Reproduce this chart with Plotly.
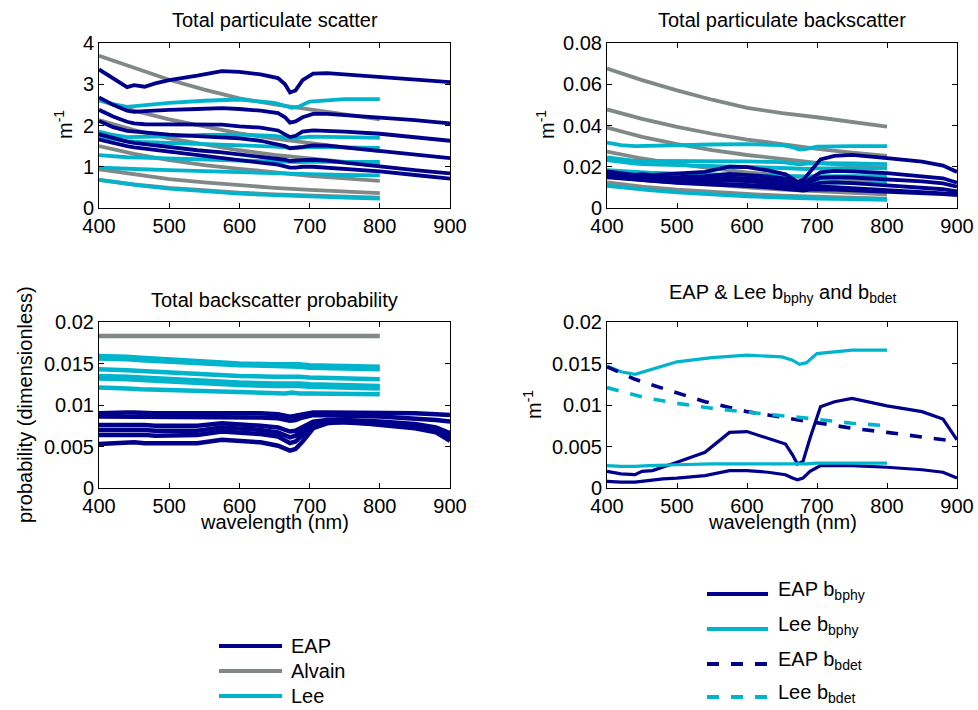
import plotly.graph_objects as go

# ---------------- data ----------------
wl_eap = [400, 420, 440, 450, 465, 480, 500, 540, 575, 600, 630, 655, 665, 672,
          680, 690, 705, 725, 750, 800, 850, 880, 900]
wl_lee = [400, 420, 440, 460, 500, 550, 600, 650, 665, 675, 685, 700, 750, 800]
wl_alvain = [400, 450, 500, 550, 600, 650, 700, 750, 800]

# total particulate scatter b_p (m^-1)
eap_bp = [
    [3.36, 3.15, 2.93, 2.98, 2.94, 3.02, 3.10, 3.21, 3.32, 3.30, 3.24, 3.15, 3.00, 2.80,
     2.85, 3.10, 3.26, 3.27, 3.24, 3.18, 3.12, 3.08, 3.05],
    [2.68, 2.50, 2.36, 2.33, 2.35, 2.37, 2.38, 2.40, 2.42, 2.40, 2.36, 2.30, 2.20, 2.07,
     2.10, 2.20, 2.28, 2.28, 2.25, 2.20, 2.13, 2.08, 2.05],
    [2.38, 2.22, 2.09, 2.05, 2.03, 2.03, 2.04, 2.04, 2.02, 1.98, 1.95, 1.88, 1.80, 1.72,
     1.75, 1.85, 1.88, 1.87, 1.85, 1.80, 1.72, 1.67, 1.63],
    [2.11, 1.96, 1.87, 1.85, 1.83, 1.81, 1.78, 1.74, 1.72, 1.69, 1.63, 1.55, 1.50, 1.45,
     1.46, 1.48, 1.52, 1.51, 1.47, 1.38, 1.30, 1.25, 1.21],
    [1.79, 1.69, 1.61, 1.58, 1.55, 1.51, 1.46, 1.40, 1.35, 1.30, 1.25, 1.20, 1.17, 1.14,
     1.14, 1.16, 1.17, 1.15, 1.10, 1.00, 0.92, 0.87, 0.84],
    [1.66, 1.57, 1.50, 1.47, 1.44, 1.40, 1.35, 1.28, 1.22, 1.17, 1.11, 1.05, 1.01, 0.98,
     0.98, 1.00, 1.00, 0.98, 0.95, 0.89, 0.80, 0.75, 0.71],
]
lee_bp = [
    [2.62, 2.52, 2.45, 2.48, 2.55, 2.60, 2.63, 2.55, 2.48, 2.43, 2.46, 2.58, 2.64, 2.64],
    [1.85, 1.77, 1.72, 1.72, 1.74, 1.77, 1.78, 1.75, 1.72, 1.68, 1.70, 1.73, 1.72, 1.70],
    [1.73, 1.67, 1.62, 1.60, 1.58, 1.55, 1.52, 1.49, 1.47, 1.45, 1.46, 1.48, 1.47, 1.46],
    [1.28, 1.25, 1.23, 1.22, 1.20, 1.18, 1.15, 1.13, 1.12, 1.10, 1.11, 1.12, 1.12, 1.12],
    [0.98, 0.96, 0.95, 0.94, 0.92, 0.89, 0.87, 0.85, 0.84, 0.82, 0.82, 0.82, 0.80, 0.79],
    [0.68, 0.63, 0.58, 0.54, 0.47, 0.40, 0.35, 0.31, 0.30, 0.29, 0.29, 0.28, 0.25, 0.23],
]
alvain_bp = [
    [3.69, 3.39, 3.11, 2.87, 2.66, 2.51, 2.40, 2.27, 2.15],
    [2.61, 2.36, 2.15, 1.97, 1.81, 1.68, 1.57, 1.47, 1.38],
    [2.13, 1.89, 1.69, 1.54, 1.40, 1.29, 1.20, 1.12, 1.05],
    [1.50, 1.31, 1.16, 1.04, 0.95, 0.86, 0.78, 0.72, 0.66],
    [0.94, 0.81, 0.70, 0.62, 0.55, 0.49, 0.44, 0.39, 0.36],
    [0.68, 0.57, 0.49, 0.42, 0.37, 0.33, 0.30, 0.27, 0.25],
]

# total particulate backscatter b_bp (m^-1)
eap_bbp = [
    [0.0178, 0.0170, 0.0161, 0.0164, 0.0159, 0.0163, 0.0167, 0.0175, 0.0200, 0.0198, 0.0182,
     0.0163, 0.0142, 0.0127, 0.0135, 0.0175, 0.0236, 0.0253, 0.0258, 0.0242, 0.0225, 0.0206, 0.0175],
    [0.0172, 0.0160, 0.0153, 0.0151, 0.0150, 0.0149, 0.0150, 0.0154, 0.0165, 0.0161, 0.0153,
     0.0143, 0.0125, 0.0112, 0.0118, 0.0141, 0.0173, 0.0180, 0.0178, 0.0169, 0.0155, 0.0144, 0.0123],
    [0.0167, 0.0155, 0.0148, 0.0146, 0.0142, 0.0140, 0.0141, 0.0141, 0.0147, 0.0143, 0.0137,
     0.0126, 0.0115, 0.0105, 0.0110, 0.0128, 0.0147, 0.0150, 0.0148, 0.0140, 0.0129, 0.0119, 0.0103],
    [0.0160, 0.0149, 0.0144, 0.0142, 0.0139, 0.0136, 0.0134, 0.0131, 0.0134, 0.0130, 0.0122,
     0.0113, 0.0105, 0.0099, 0.0101, 0.0110, 0.0122, 0.0124, 0.0121, 0.0110, 0.0100, 0.0091, 0.0080],
    [0.0154, 0.0145, 0.0138, 0.0136, 0.0132, 0.0128, 0.0124, 0.0119, 0.0116, 0.0112, 0.0106,
     0.0101, 0.0096, 0.0092, 0.0093, 0.0099, 0.0103, 0.0101, 0.0096, 0.0086, 0.0077, 0.0071, 0.0067],
    [0.0149, 0.0143, 0.0137, 0.0134, 0.0130, 0.0126, 0.0122, 0.0115, 0.0111, 0.0106, 0.0100,
     0.0093, 0.0088, 0.0084, 0.0085, 0.0089, 0.0091, 0.0089, 0.0086, 0.0080, 0.0072, 0.0067, 0.0062],
]
lee_bbp = [
    [0.0317, 0.0305, 0.0300, 0.0302, 0.0305, 0.0308, 0.0310, 0.0305, 0.0295, 0.0283, 0.0287, 0.0298, 0.0300, 0.0300],
    [0.0245, 0.0236, 0.0228, 0.0228, 0.0228, 0.0227, 0.0226, 0.0222, 0.0218, 0.0212, 0.0215, 0.0218, 0.0216, 0.0213],
    [0.0232, 0.0223, 0.0215, 0.0212, 0.0207, 0.0203, 0.0199, 0.0194, 0.0191, 0.0187, 0.0189, 0.0192, 0.0192, 0.0192],
    [0.0183, 0.0178, 0.0174, 0.0171, 0.0167, 0.0163, 0.0159, 0.0156, 0.0154, 0.0151, 0.0153, 0.0155, 0.0155, 0.0155],
    [0.0153, 0.0150, 0.0147, 0.0144, 0.0140, 0.0135, 0.0131, 0.0128, 0.0127, 0.0124, 0.0125, 0.0124, 0.0121, 0.0119],
    [0.0108, 0.0100, 0.0093, 0.0087, 0.0076, 0.0065, 0.0057, 0.0051, 0.0049, 0.0048, 0.0047, 0.0046, 0.0043, 0.0040],
]
alvain_bbp = [
    [0.0676, 0.0620, 0.0570, 0.0525, 0.0486, 0.0460, 0.0440, 0.0415, 0.0394],
    [0.0478, 0.0432, 0.0393, 0.0360, 0.0332, 0.0308, 0.0287, 0.0269, 0.0253],
    [0.0390, 0.0345, 0.0310, 0.0281, 0.0257, 0.0236, 0.0219, 0.0205, 0.0193],
    [0.0274, 0.0240, 0.0213, 0.0191, 0.0173, 0.0157, 0.0143, 0.0131, 0.0121],
    [0.0172, 0.0148, 0.0129, 0.0113, 0.0100, 0.0089, 0.0080, 0.0072, 0.0066],
    [0.0124, 0.0104, 0.0089, 0.0077, 0.0068, 0.0060, 0.0054, 0.0049, 0.0045],
]

# backscatter probability b_bp / b_p
eap_prob = [
    [0.0090, 0.0091, 0.0091, 0.0091, 0.0090, 0.0090, 0.0090, 0.0090, 0.0091, 0.0091, 0.0090, 0.0089,
     0.0087, 0.0086, 0.0087, 0.0089, 0.0091, 0.0091, 0.0091, 0.0090, 0.0090, 0.0089, 0.0088],
    [0.0086, 0.0086, 0.0086, 0.0086, 0.0085, 0.0085, 0.0085, 0.0085, 0.0086, 0.0086, 0.0085, 0.0084,
     0.0082, 0.0081, 0.0082, 0.0085, 0.0088, 0.0088, 0.0087, 0.0086, 0.0084, 0.0082, 0.0080],
    [0.0076, 0.0076, 0.0077, 0.0077, 0.0076, 0.0075, 0.0075, 0.0075, 0.0078, 0.0077, 0.0075, 0.0073,
     0.0070, 0.0068, 0.0069, 0.0074, 0.0080, 0.0082, 0.0082, 0.0080, 0.0077, 0.0073, 0.0066],
    [0.0070, 0.0070, 0.0071, 0.0071, 0.0070, 0.0069, 0.0069, 0.0069, 0.0073, 0.0072, 0.0070, 0.0067,
     0.0064, 0.0061, 0.0063, 0.0069, 0.0078, 0.0080, 0.0080, 0.0078, 0.0075, 0.0071, 0.0063],
    [0.0064, 0.0064, 0.0065, 0.0065, 0.0064, 0.0063, 0.0063, 0.0064, 0.0068, 0.0067, 0.0065, 0.0062,
     0.0057, 0.0054, 0.0056, 0.0064, 0.0076, 0.0079, 0.0079, 0.0077, 0.0073, 0.0069, 0.0060],
    [0.0053, 0.0054, 0.0055, 0.0055, 0.0054, 0.0054, 0.0054, 0.0054, 0.0058, 0.0057, 0.0055, 0.0051,
     0.0047, 0.0045, 0.0047, 0.0056, 0.0072, 0.0078, 0.0080, 0.0076, 0.0072, 0.0067, 0.0057],
]
lee_prob = [
    [0.0159, 0.0159, 0.0158, 0.0157, 0.0155, 0.0152, 0.0150, 0.0149, 0.0149, 0.0150, 0.0149, 0.0148, 0.0147, 0.0146],
    [0.0156, 0.0156, 0.0155, 0.0154, 0.0152, 0.0150, 0.0148, 0.0147, 0.0147, 0.0147, 0.0146, 0.0145, 0.0144, 0.0143],
    [0.0143, 0.0143, 0.0142, 0.0141, 0.0139, 0.0137, 0.0135, 0.0134, 0.0134, 0.0135, 0.0134, 0.0133, 0.0132, 0.0131],
    [0.0135, 0.0135, 0.0134, 0.0133, 0.0131, 0.0129, 0.0127, 0.0126, 0.0126, 0.0127, 0.0126, 0.0125, 0.0124, 0.0123],
    [0.0132, 0.0132, 0.0131, 0.0130, 0.0128, 0.0126, 0.0124, 0.0123, 0.0123, 0.0124, 0.0123, 0.0122, 0.0121, 0.0120],
    [0.0121, 0.0121, 0.0120, 0.0119, 0.0118, 0.0116, 0.0115, 0.0114, 0.0114, 0.0115, 0.0114, 0.0114, 0.0113, 0.0113],
]
alvain_prob = [0.0183, 0.0183, 0.0183, 0.0183, 0.0183, 0.0183, 0.0183, 0.0183, 0.0183]

# phytoplankton / detrital backscatter (m^-1)
eap_bbphy = [
    [0.0020, 0.0017, 0.0016, 0.0020, 0.0021, 0.0025, 0.0031, 0.0043, 0.0067, 0.0068, 0.0060, 0.0053,
     0.0040, 0.0029, 0.0032, 0.0060, 0.0098, 0.0104, 0.0108, 0.0099, 0.0092, 0.0083, 0.0058],
    [0.0008, 0.0007, 0.0007, 0.0008, 0.0009, 0.0011, 0.0012, 0.0015, 0.0021, 0.0021, 0.0019, 0.0016,
     0.0012, 0.0010, 0.0012, 0.0020, 0.0027, 0.0027, 0.0027, 0.0025, 0.0022, 0.0019, 0.0012],
]
lee_bbphy = [
    [0.0147, 0.0140, 0.0137, 0.0142, 0.0152, 0.0157, 0.0160, 0.0158, 0.0154, 0.0149, 0.0151, 0.0162, 0.0166, 0.0166],
    [0.0027, 0.0026, 0.0026, 0.0027, 0.0028, 0.0029, 0.0029, 0.0029, 0.0029, 0.0029, 0.0029, 0.0030, 0.0030, 0.0030],
]
eap_bbdet = [0.0146, 0.0138, 0.0131, 0.0128, 0.0124, 0.0120, 0.0114, 0.0104, 0.0097, 0.0092, 0.0088, 0.0084,
             0.0083, 0.0082, 0.0081, 0.0080, 0.0078, 0.0075, 0.0072, 0.0067, 0.0062, 0.0058, 0.0056]
lee_bbdet = [0.0121, 0.0116, 0.0112, 0.0108, 0.0102, 0.0096, 0.0091, 0.0087, 0.0086, 0.0085, 0.0084, 0.0082, 0.0078, 0.0075]

legend_left = ["EAP", "Alvain", "Lee"]
legend_right = ["EAP b<sub>bphy</sub>", "Lee b<sub>bphy</sub>", "EAP b<sub>bdet</sub>", "Lee b<sub>bdet</sub>"]

# ---------------- styling ----------------
NAVY = "rgb(0,0,139)"
GRAY = "rgb(128,136,136)"
CYAN = "rgb(0,180,204)"
FONT = "Liberation Sans, Arial, Helvetica, sans-serif"
FS = 20
W, H = 978, 710


def px(x):
    return x / W


def py(y):
    return 1 - y / H


fig = go.Figure()


def add(xs, ys, color, ax, width=3.8, dash="solid"):
    fig.add_trace(go.Scatter(
        x=xs, y=ys, mode="lines", xaxis="x" + ax, yaxis="y" + ax,
        line=dict(color=color, width=width, dash=dash), showlegend=False,
        hoverinfo="skip"))


# panel 1: scatter
for s in alvain_bp:
    add(wl_alvain, s, GRAY, "")
for s in lee_bp:
    add(wl_lee, s, CYAN, "")
for s in eap_bp:
    add(wl_eap, s, NAVY, "")

# panel 2: backscatter
for s in alvain_bbp:
    add(wl_alvain, s, GRAY, "2")
for s in lee_bbp:
    add(wl_lee, s, CYAN, "2")
for s in eap_bbp:
    add(wl_eap, s, NAVY, "2")

# panel 3: backscatter probability
add(wl_alvain, alvain_prob, GRAY, "3", width=4.5)
for s in lee_prob:
    add(wl_lee, s, CYAN, "3", width=4.5)
for s in eap_prob:
    add(wl_eap, s, NAVY, "3", width=4.5)

# panel 4: phytoplankton and detrital backscatter
for s in eap_bbphy:
    add(wl_eap, s, NAVY, "4", width=3.2)
for s in lee_bbphy:
    add(wl_lee, s, CYAN, "4", width=3.2)
add(wl_eap, eap_bbdet, NAVY, "4", width=3.6, dash="12px,12px")
add(wl_lee, lee_bbdet, CYAN, "4", width=3.6, dash="12px,12px")

# axes
XL = [px(99), px(450)]
XR = [px(607), px(957)]
YT = [py(208), py(43)]
YB = [py(488), py(322)]

axis_common = dict(showline=True, linecolor="black", linewidth=1, mirror="ticks",
                   ticks="inside", ticklen=5, tickcolor="black", showgrid=False,
                   zeroline=False, automargin=False,
                   tickfont=dict(family=FONT, size=FS, color="black"))


def xax(dom, anchor):
    return dict(domain=dom, anchor=anchor, range=[400, 900], tickmode="array",
                tickvals=[400, 500, 600, 700, 800, 900], **axis_common)


def yax(dom, anchor, rng, dtick):
    return dict(domain=dom, anchor=anchor, range=rng, tick0=0, dtick=dtick, **axis_common)


fig.update_layout(
    template="none",
    width=W, height=H, margin=dict(l=0, r=0, t=0, b=0, pad=0), autosize=False,
    paper_bgcolor="white", plot_bgcolor="white",
    font=dict(family=FONT, size=FS, color="black"),
    xaxis=xax(XL, "y"), yaxis=yax(YT, "x", [0, 4], 1),
    xaxis2=xax(XR, "y2"), yaxis2=yax(YT, "x2", [0, 0.08], 0.02),
    xaxis3=xax(XL, "y3"), yaxis3=yax(YB, "x3", [0, 0.02], 0.005),
    xaxis4=xax(XR, "y4"), yaxis4=yax(YB, "x4", [0, 0.02], 0.005),
)

ann = []


def text(x, y, s, xanchor="center", angle=0, yanchor="middle"):
    ann.append(dict(x=px(x), y=py(y), xref="paper", yref="paper", text=s,
                    showarrow=False, xanchor=xanchor, yanchor=yanchor, textangle=angle,
                    font=dict(family=FONT, size=FS, color="black")))


# titles
text(274.5, 20, "Total particulate scatter")
text(782, 20, "Total particulate backscatter")
text(274.5, 300, "Total backscatter probability")
text(782, 293, "EAP &amp; Lee b<sub>bphy</sub> and b<sub>bdet</sub>")

# axis labels
text(64, 125, "m<sup>-1</sup>", angle=-90)
text(546, 125, "m<sup>-1</sup>", angle=-90)
text(25, 405, "probability (dimensionless)", angle=-90)
text(532, 405, "m<sup>-1</sup>", angle=-90)
text(274.5, 522, "wavelength (nm)")
text(782, 522, "wavelength (nm)")

# legends drawn as line samples + labels
shapes = []
for lab, col, yy in zip(legend_left, [NAVY, GRAY, CYAN], [646, 671, 696]):
    shapes.append(dict(type="line", xref="paper", yref="paper", x0=px(219), x1=px(282),
                       y0=py(yy), y1=py(yy), line=dict(color=col, width=4)))
    text(289, yy, lab, xanchor="left")

for lab, col, dash, yy in zip(legend_right, [NAVY, CYAN, NAVY, CYAN],
                              ["solid", "solid", "12px,12px", "12px,12px"],
                              [594, 629, 664, 697]):
    shapes.append(dict(type="line", xref="paper", yref="paper", x0=px(707), x1=px(768),
                       y0=py(yy), y1=py(yy), line=dict(color=col, width=4, dash=dash)))
    text(776, yy - 4, lab, xanchor="left")

fig.update_layout(annotations=ann, shapes=shapes)
fig.write_html("out.html")
